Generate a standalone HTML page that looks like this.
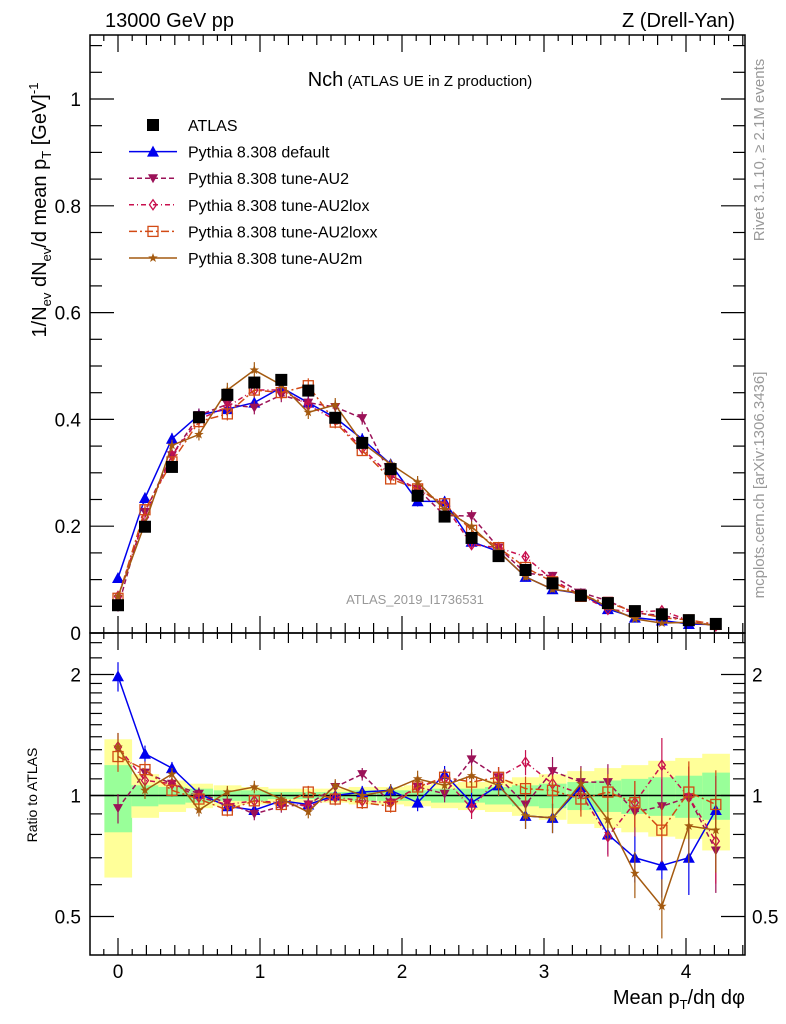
<!DOCTYPE html>
<html><head><meta charset="utf-8"><style>
html,body{margin:0;padding:0;background:#fff}
svg{display:block;font-family:"Liberation Sans",sans-serif}
</style></head><body>
<svg id="chart" width="786" height="1024" viewBox="0 0 786 1024" xmlns="http://www.w3.org/2000/svg">
<text x="105" y="27" font-size="20">13000 GeV pp</text>
<text x="735" y="27" font-size="20" text-anchor="end">Z (Drell-Yan)</text>
<text x="420" y="86" text-anchor="middle"><tspan font-size="20">Nch</tspan><tspan font-size="15"> (ATLAS UE in Z production)</tspan></text>
<text x="415" y="604" font-size="13" fill="#999" text-anchor="middle">ATLAS_2019_I1736531</text>
<text transform="translate(764,150) rotate(-90)" font-size="15" fill="#999" text-anchor="middle">Rivet 3.1.10, ≥ 2.1M events</text>
<text transform="translate(764,485) rotate(-90)" font-size="15" fill="#999" text-anchor="middle">mcplots.cern.ch [arXiv:1306.3436]</text>
<text transform="translate(46,210) rotate(-90)" font-size="20" text-anchor="middle">1/N<tspan font-size="13" dy="5">ev</tspan><tspan dy="-5"> dN</tspan><tspan font-size="13" dy="5">ev</tspan><tspan dy="-5">/d mean p</tspan><tspan font-size="13" dy="5">T</tspan><tspan dy="-5"> [GeV]</tspan><tspan font-size="13" dy="-8">-1</tspan></text>
<text transform="translate(37,795) rotate(-90)" font-size="14" text-anchor="middle">Ratio to ATLAS</text>
<text x="745" y="1004" font-size="20" text-anchor="end">Mean p<tspan font-size="13" dy="5">T</tspan><tspan dy="-5">/dη dφ</tspan></text>
<g id="layer"></g>
</svg>
<script>
const xs=[0,0.19,0.38,0.57,0.77,0.96,1.15,1.34,1.53,1.72,1.92,2.11,2.30,2.49,2.68,2.87,3.06,3.26,3.45,3.64,3.83,4.02,4.21];
const atlas=[0.052,0.199,0.311,0.404,0.446,0.469,0.474,0.454,0.403,0.356,0.307,0.257,0.218,0.178,0.144,0.118,0.093,0.070,0.056,0.041,0.035,0.024,0.017];
const rDefault=[1.98,1.27,1.17,1.01,0.94,0.92,0.97,0.95,1.0,1.02,1.03,0.96,1.13,0.96,1.06,0.89,0.88,1.05,0.80,0.70,0.67,0.70,0.92];
const rAU2=[0.93,1.14,1.07,1.01,0.96,0.90,0.94,0.95,1.05,1.13,0.96,1.05,1.01,1.23,1.11,0.95,1.15,1.08,1.08,0.91,0.94,0.99,0.73];
const rAU2lox=[1.32,1.09,1.07,0.99,0.95,0.97,0.96,0.94,0.99,0.97,0.96,1.05,1.10,0.93,1.11,1.21,1.07,1.01,0.79,0.96,1.19,0.99,0.77];
const rAU2loxx=[1.25,1.16,1.03,0.98,0.92,0.97,0.95,1.02,0.98,0.96,0.94,1.05,1.11,1.08,1.11,1.04,1.03,0.98,1.02,0.96,0.82,1.02,0.95];
const rAU2m=[1.32,1.03,1.13,0.92,1.02,1.05,0.98,0.91,1.06,1.0,1.03,1.10,1.06,1.12,1.06,0.89,0.88,1.07,0.87,0.64,0.53,0.84,0.82];
const relErr=[0.07,0.04,0.03,0.03,0.03,0.03,0.03,0.03,0.03,0.03,0.03,0.04,0.04,0.05,0.05,0.06,0.07,0.08,0.09,0.11,0.14,0.16,0.18];
const yellowUp=[1.38,1.13,1.09,1.07,1.06,1.05,1.04,1.04,1.04,1.05,1.05,1.06,1.07,1.08,1.09,1.11,1.13,1.15,1.17,1.19,1.22,1.24,1.27];
const yellowLo=[0.625,0.88,0.91,0.93,0.94,0.95,0.96,0.96,0.96,0.95,0.95,0.94,0.93,0.92,0.91,0.89,0.87,0.85,0.83,0.81,0.79,0.78,0.73];
const greenUp=[1.19,1.06,1.05,1.04,1.03,1.03,1.02,1.02,1.02,1.03,1.03,1.03,1.04,1.04,1.05,1.06,1.07,1.08,1.09,1.10,1.11,1.12,1.14];
const greenLo=[0.81,0.94,0.95,0.96,0.97,0.97,0.98,0.98,0.98,0.97,0.97,0.97,0.96,0.96,0.95,0.94,0.93,0.92,0.91,0.90,0.89,0.88,0.87];
const mainTicks=["0","0.2","0.4","0.6","0.8","1"];
const mainTickVals=[0,0.2,0.4,0.6,0.8,1.0];
const ratioTicks=["0.5","1","2"];
const ratioTickVals=[0.5,1,2];
const xTicks=["0","1","2","3","4"];
const xTickVals=[0,1,2,3,4];

const L=90,R=745,T=35,M=633,B=955;
const X=v=>118+v*142;
const Y=v=>633-v*534;
const YR=v=>795.5-Math.log2(v)*121;
const NS="http://www.w3.org/2000/svg";
const layer=document.getElementById('layer');
function el(tag,attrs,parent){const e=document.createElementNS(NS,tag);for(const k in attrs)e.setAttribute(k,attrs[k]);(parent||layer).appendChild(e);return e;}

const half=0.0957;
xs.forEach((x,i)=>{
  const r=el('rect',{x:X(x-half),y:YR(yellowUp[i]),width:X(x+half)-X(x-half)+0.5,height:YR(yellowLo[i])-YR(yellowUp[i]),fill:'#ffff99'});
  
  
  const g=el('rect',{x:X(x-half),y:YR(greenUp[i]),width:X(x+half)-X(x-half)+0.5,height:YR(greenLo[i])-YR(greenUp[i]),fill:'#99ff99'});
  
  
});
const one=el('line',{x1:L,x2:R,y1:YR(1),y2:YR(1),stroke:'#000','stroke-width':1.5});



function marker(type,cx,cy,color,parent){
  if(type==='sq') return el('rect',{x:cx-6,y:cy-6,width:12,height:12,fill:'#000'},parent);
  if(type==='tu') return el('polygon',{points:`${cx},${cy-6} ${cx-6},${cy+5} ${cx+6},${cy+5}`,fill:color},parent);
  if(type==='td') return el('polygon',{points:`${cx},${cy+5} ${cx-5},${cy-4} ${cx+5},${cy-4}`,fill:color},parent);
  if(type==='di') return el('polygon',{points:`${cx},${cy-5} ${cx-3.5},${cy} ${cx},${cy+5} ${cx+3.5},${cy}`,fill:'none',stroke:color,'stroke-width':1.3},parent);
  if(type==='os') return el('rect',{x:cx-5,y:cy-5,width:10,height:10,fill:'none',stroke:color,'stroke-width':1.3},parent);
  if(type==='st'){let p=[];for(let k=0;k<10;k++){const a=-Math.PI/2+k*Math.PI/5;const rr=k%2?2:5;p.push((cx+rr*Math.cos(a)).toFixed(1)+','+(cy+rr*Math.sin(a)).toFixed(1));}return el('polygon',{points:p.join(' '),fill:color},parent);}
}

const series=[
 {name:'default',r:rDefault,color:'#0000ee',m:'tu',dash:''},
 {name:'au2',r:rAU2,color:'#9b1258',m:'td',dash:'5,3'},
 {name:'au2lox',r:rAU2lox,color:'#c8104e',m:'di',dash:'5,3,1,3'},
 {name:'au2loxx',r:rAU2loxx,color:'#d24a14',m:'os',dash:'8,3,2,3'},
 {name:'au2m',r:rAU2m,color:'#a45a10',m:'st',dash:''}
];
series.forEach(s=>{
  const gm=el('g',{});
  
  
  const gr=el('g',{});
  
  
  const pm=xs.map((x,i)=>X(x)+','+Y(atlas[i]*s.r[i])).join(' ');
  const pr=xs.map((x,i)=>X(x)+','+YR(s.r[i])).join(' ');
  el('polyline',{points:pm,fill:'none',stroke:s.color,'stroke-width':1.5,'stroke-dasharray':s.dash},gm);
  el('polyline',{points:pr,fill:'none',stroke:s.color,'stroke-width':1.5,'stroke-dasharray':s.dash},gr);
  xs.forEach((x,i)=>{
    const v=atlas[i]*s.r[i],e=v*relErr[i];
    el('line',{x1:X(x),x2:X(x),y1:Y(v+e),y2:Y(Math.max(v-e,0)),stroke:s.color,'stroke-width':1.2},gm);
    const mk=marker(s.m,X(x),Y(v),s.color,gm);
    
    
    const re=s.r[i]*relErr[i]*1.2;
    el('line',{x1:X(x),x2:X(x),y1:YR(s.r[i]+re),y2:YR(Math.max(s.r[i]-re,0.3)),stroke:s.color,'stroke-width':1.2},gr);
    const mr=marker(s.m,X(x),YR(s.r[i]),s.color,gr);
    
    
  });
});
const ga=el('g',{});


xs.forEach((x,i)=>{
  const mk=marker('sq',X(x),Y(atlas[i]),'#000',ga);
  
  
});

const f1=el('rect',{x:L,y:T,width:R-L,height:M-T,fill:'none',stroke:'#000','stroke-width':1.5});


const f2=el('rect',{x:L,y:M,width:R-L,height:B-M,fill:'none',stroke:'#000','stroke-width':1.5});



const tk={stroke:'#000','stroke-width':1.2};
for(let k=-1;k<=44;k++){
  const v=k*0.1,px=X(v);if(px<L||px>R)continue;
  const len=(k%10===0)?17:(k%2===0?10:6);
  [T,M].forEach(y0=>el('line',Object.assign({x1:px,x2:px,y1:y0,y2:y0+len},tk)));
  [M,B].forEach(y0=>el('line',Object.assign({x1:px,x2:px,y1:y0,y2:y0-len},tk)));
}
xTicks.forEach((t,i)=>{const e=el('text',{x:X(xTickVals[i]),y:978,'font-size':19,'text-anchor':'middle'});e.textContent=t;
 
 });
for(let k=0;k<=22;k++){const v=k*0.05,py=Y(v);if(py<T)continue;const len=(k%4===0)?24:12;
 el('line',Object.assign({x1:L,x2:L+len,y1:py,y2:py},tk));el('line',Object.assign({x1:R,x2:R-len,y1:py,y2:py},tk));}
mainTicks.forEach((t,i)=>{const e=el('text',{x:81,y:Y(mainTickVals[i])+7,'font-size':19,'text-anchor':'end'});e.textContent=t;
 
 });
const minors=[0.4,0.5,0.6,0.7,0.8,0.9,1,1.1,1.2,1.3,1.4,1.5,1.6,1.7,1.8,1.9,2,2.2,2.4];
minors.forEach(v=>{const py=YR(v);if(py>B||py<M)return;const len=(v===0.5||v===1||v===2)?24:12;
 el('line',Object.assign({x1:L,x2:L+len,y1:py,y2:py},tk));el('line',Object.assign({x1:R,x2:R-len,y1:py,y2:py},tk));});
ratioTicks.forEach((t,i)=>{
 const e=el('text',{x:81,y:YR(ratioTickVals[i])+7,'font-size':19,'text-anchor':'end'});e.textContent=t;
 
 
 const e2=el('text',{x:752,y:YR(ratioTickVals[i])+7,'font-size':19});e2.textContent=t;
 
 });

const legItems=[['ATLAS','sq','#000',''],['Pythia 8.308 default','tu','#0000ee',''],['Pythia 8.308 tune-AU2','td','#9b1258','5,3'],['Pythia 8.308 tune-AU2lox','di','#c8104e','5,3,1,3'],['Pythia 8.308 tune-AU2loxx','os','#d24a14','8,3,2,3'],['Pythia 8.308 tune-AU2m','st','#a45a10','']];
legItems.forEach((it,i)=>{
  const y=125+i*26.6;
  const g=el('g',{});
  
  
  if(i>0) el('line',{x1:129,x2:177,y1:y,y2:y,stroke:it[2],'stroke-width':1.5,'stroke-dasharray':it[3]},g);
  marker(it[1],153,y,it[2],g);
  const t=el('text',{x:188,y:y+6,'font-size':16},g);t.textContent=it[0];
});
</script>
</body></html>
